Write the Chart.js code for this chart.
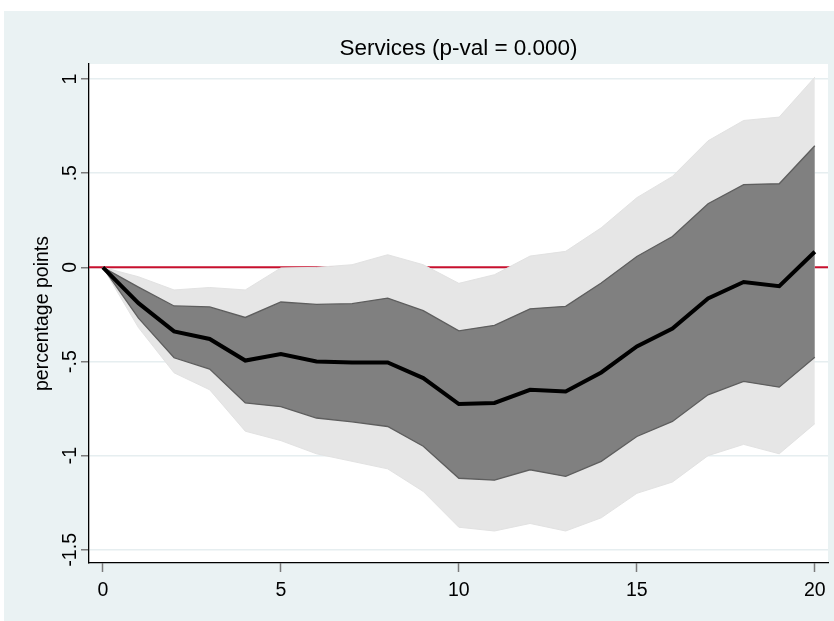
<!DOCTYPE html>
<html>
<head>
<meta charset="utf-8">
<script src="https://cdn.jsdelivr.net/npm/chart.js@4/dist/chart.umd.min.js"></script>
<style>
  html, body { margin: 0; padding: 0; background: #ffffff; }
  canvas { display: block; }
</style>
</head>
<body>
<canvas id="irfChart" width="834" height="621"></canvas>
<script>
// Impulse response of services, horizons 0-20, with two confidence bands
const horizons   = [0, 1, 2, 3, 4, 5, 6, 7, 8, 9, 10, 11, 12, 13, 14, 15, 16, 17, 18, 19, 20];
const irf        = [0, -0.19, -0.34, -0.38, -0.495, -0.46, -0.50, -0.505, -0.505, -0.588, -0.726, -0.72, -0.65, -0.659, -0.558, -0.42, -0.325, -0.165, -0.078, -0.10, 0.083];
const innerUpper = [0, -0.105, -0.205, -0.21, -0.266, -0.184, -0.197, -0.193, -0.163, -0.23, -0.337, -0.308, -0.22, -0.207, -0.083, 0.058, 0.164, 0.338, 0.439, 0.444, 0.646];
const innerLower = [0, -0.27, -0.48, -0.54, -0.72, -0.74, -0.80, -0.82, -0.845, -0.95, -1.12, -1.13, -1.075, -1.11, -1.03, -0.898, -0.818, -0.677, -0.606, -0.636, -0.477];
const outerUpper = [0, -0.05, -0.12, -0.107, -0.12, -0.003, 0.0, 0.014, 0.067, 0.014, -0.085, -0.039, 0.06, 0.085, 0.21, 0.37, 0.483, 0.672, 0.78, 0.798, 1.01];
const outerLower = [0, -0.32, -0.56, -0.65, -0.87, -0.92, -0.99, -1.03, -1.07, -1.19, -1.38, -1.40, -1.36, -1.40, -1.33, -1.20, -1.14, -1.00, -0.94, -0.99, -0.83];

const xTickValues = [0, 5, 10, 15, 20];
const yTickValues = [-1.5, -1, -0.5, 0, 0.5, 1];
const yTickLabels = ['-1.5', '-1', '-.5', '0', '.5', '1'];

const chartTitle = 'Services (p-val = 0.000)';
const yAxisTitle = 'percentage points';

const FONT = "'Liberation Sans', Arial, Helvetica, sans-serif";
const toPoints = arr => horizons.map((h, i) => ({ x: h, y: arr[i] }));

// Light outer panel and white plot region
const backdrop = {
  id: 'backdrop',
  beforeDraw(chart) {
    const { ctx, chartArea: a } = chart;
    ctx.save();
    ctx.fillStyle = '#EAF2F3';
    ctx.fillRect(4, 11, chart.width - 4, chart.height - 11);
    ctx.fillStyle = '#ffffff';
    ctx.fillRect(a.left, a.top, a.right - a.left, a.bottom - a.top);
    ctx.restore();
  }
};

// Zero reference line, drawn underneath the bands
const zeroLine = {
  id: 'zeroLine',
  beforeDatasetsDraw(chart) {
    const { ctx, chartArea: a, scales } = chart;
    const y = scales.y.getPixelForValue(0);
    ctx.save();
    ctx.strokeStyle = '#C8102E';
    ctx.lineWidth = 2;
    ctx.beginPath();
    ctx.moveTo(a.left, y);
    ctx.lineTo(a.right, y);
    ctx.stroke();
    ctx.restore();
  }
};

new Chart(document.getElementById('irfChart'), {
  type: 'line',
  data: {
    datasets: [
      { data: toPoints(outerUpper), fill: '+1', backgroundColor: '#E6E6E6', borderColor: '#E2E2E2', borderWidth: 1, pointRadius: 0, order: 5 },
      { data: toPoints(outerLower), fill: false, borderColor: '#E2E2E2', borderWidth: 1, pointRadius: 0, order: 4 },
      { data: toPoints(innerUpper), fill: '+1', backgroundColor: '#808080', borderColor: '#5E5E5E', borderWidth: 1.3, pointRadius: 0, order: 3 },
      { data: toPoints(innerLower), fill: false, borderColor: '#5E5E5E', borderWidth: 1.3, pointRadius: 0, order: 2 },
      { data: toPoints(irf), fill: false, borderColor: '#000000', borderWidth: 4, pointRadius: 0, order: 1 }
    ]
  },
  options: {
    responsive: false,
    animation: false,
    events: [],
    layout: { padding: { left: 0, right: 6, top: 0, bottom: 0 } },
    plugins: {
      legend: { display: false },
      tooltip: { enabled: false },
      title: {
        display: true,
        text: chartTitle,
        fullSize: false,
        color: '#000000',
        font: { family: FONT, size: 22.5, weight: 'normal', lineHeight: 1.2 },
        padding: { top: 35, bottom: 2 }
      }
    },
    scales: {
      x: {
        type: 'linear',
        min: -0.39,
        max: 20.37,
        afterBuildTicks: s => { s.ticks = xTickValues.map(v => ({ value: v })); },
        afterFit: s => { s.height = 58; s.paddingLeft = 0; s.paddingRight = 0; },
        ticks: {
          autoSkip: false, maxRotation: 0, minRotation: 0, padding: 7,
          color: '#000000',
          font: { family: FONT, size: 19.5 },
          callback: v => String(v)
        },
        grid: { drawOnChartArea: false, drawTicks: true, tickLength: 9, tickColor: '#7A7A7A', tickWidth: 1.5 },
        border: { display: true, color: '#000000', width: 1.3 }
      },
      y: {
        type: 'linear',
        min: -1.57,
        max: 1.08,
        afterBuildTicks: s => { s.ticks = yTickValues.map(v => ({ value: v })); },
        afterFit: s => { s.width = 89; s.paddingTop = 0; s.paddingBottom = 0; },
        ticks: {
          autoSkip: false, minRotation: 90, maxRotation: 90, crossAlign: 'center', padding: -6,
          color: '#000000',
          font: { family: FONT, size: 19.5 },
          callback: v => yTickLabels[yTickValues.indexOf(v)]
        },
        grid: { color: '#E6EEF0', lineWidth: 1.5, drawTicks: true, tickLength: 8, tickColor: '#7A7A7A', tickWidth: 1.5 },
        border: { display: true, color: '#000000', width: 1.3 },
        title: {
          display: true,
          text: yAxisTitle,
          color: '#000000',
          font: { family: FONT, size: 19.5, lineHeight: 1.2 },
          padding: { top: 31, bottom: 0 }
        }
      }
    }
  },
  plugins: [backdrop, zeroLine]
});
</script>
</body>
</html>
